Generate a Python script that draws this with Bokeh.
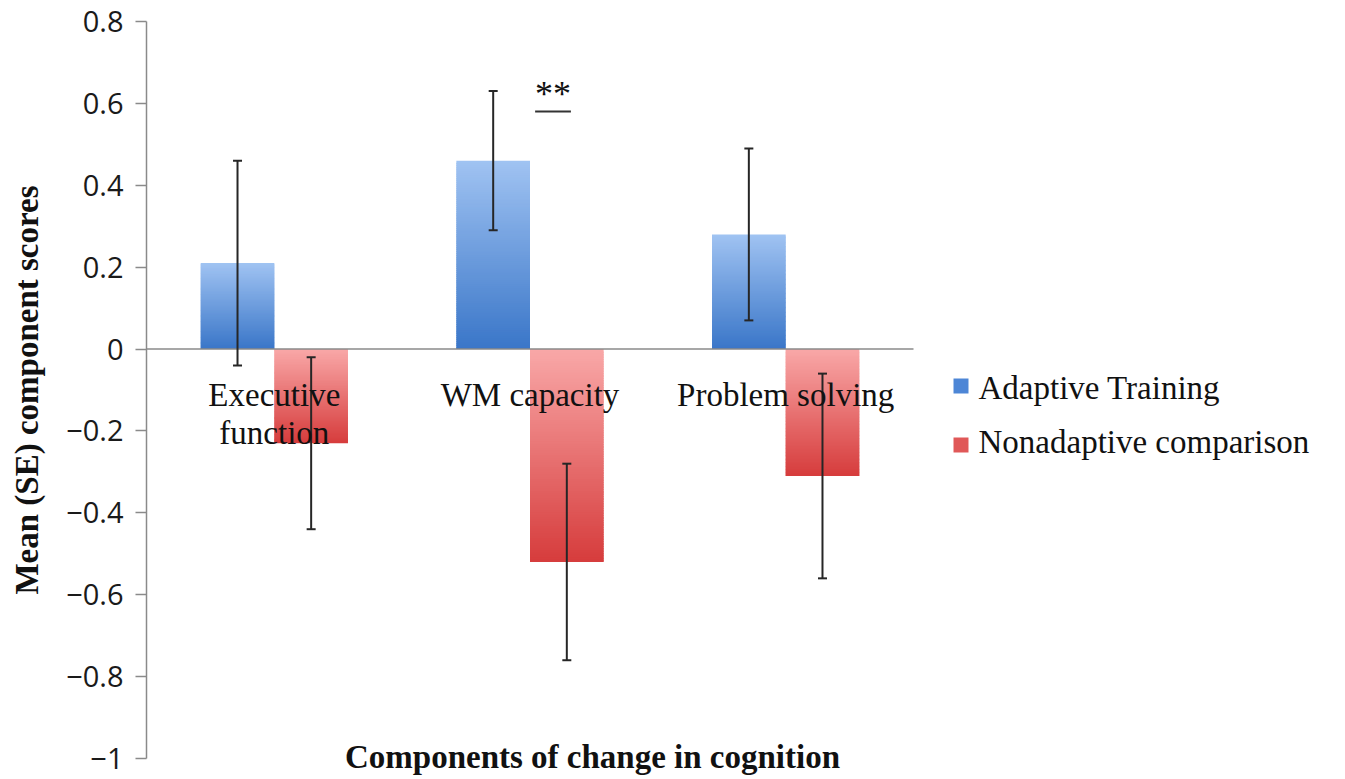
import numpy as np
from bokeh.plotting import figure
from bokeh.models import (ColumnDataSource, Label, BoxAnnotation, FixedTicker,
                          CustomJSTickFormatter, Range1d)
from bokeh.core.properties import value
from bokeh.embed import file_html
from bokeh.resources import INLINE

# ---------------- data ----------------
categories = ["Executive\nfunction", "WM capacity", "Problem solving"]
series_names = ["Adaptive Training", "Nonadaptive comparison"]
adaptive_mean = [0.21, 0.46, 0.28]
adaptive_se = [0.25, 0.17, 0.21]
nonadaptive_mean = [-0.23, -0.52, -0.31]
nonadaptive_se = [0.21, 0.24, 0.25]
y_ticks = [-1.0, -0.8, -0.6, -0.4, -0.2, 0.0, 0.2, 0.4, 0.6, 0.8]
x_title = "Components of change in cognition"
y_title = "Mean (SE) component scores"
sig_label = "**"
sig_x = [1.52, 1.66]
sig_y = 0.58

# ---------------- layout / style ----------------
W, H = 1329, 779
FL = 146                 # y axis position (px from left)
CAT_W = 767              # pixel width spanned by the three categories
AX_TOP, AX_BOT = 21, 758  # pixel rows of 0.8 and -1
N = len(categories)
PX_PER_X = CAT_W / N
PX_PER_Y = (AX_BOT - AX_TOP) / 1.8
XMIN, XMAX = 0.0, (W - FL) / PX_PER_X
YMAX = 0.8 + AX_TOP / PX_PER_Y
YMIN = -1.0 - (H - AX_BOT) / PX_PER_Y
SERIF = "Liberation Serif"
SANS = "Open Sans"
FS = 33
BASE_FIX = 11            # text baselines render this many px lower than asked
blue_top, blue_bot = (0xA0, 0xC3, 0xF2), (0x3A, 0x76, 0xC8)
red_top, red_bot = (0xF9, 0xA8, 0xA8), (0xD6, 0x3C, 0x3C)
bar_w = 0.288


def dx(px):  # canvas px -> data x
    return XMIN + (px - FL) / PX_PER_X


def dy(py):  # canvas px -> data y
    return YMAX - py / PX_PER_Y


p = figure(width=W, height=H, output_backend="svg", toolbar_location=None,
           x_range=Range1d(XMIN, XMAX), y_range=Range1d(YMIN, YMAX),
           x_axis_location=None, min_border_left=FL, min_border_right=0,
           min_border_top=0, min_border_bottom=0)
p.outline_line_color = None
p.xgrid.visible = False
p.ygrid.visible = False
p.background_fill_color = "white"
p.border_fill_color = "white"

centers = np.arange(N) + 0.5


def hex_of(c):
    return "#%02x%02x%02x" % tuple(int(round(v)) for v in c)


def gradient_source(lefts, rights, tops, bots, c_top, c_bot, n=90):
    L, R, T, B, C = [], [], [], [], []
    for l, r, t, b in zip(lefts, rights, tops, bots):
        edges = np.linspace(t, b, n + 1)
        ov = (t - b) / n * 0.8
        for i in range(n):
            f = (i + 0.5) / n
            col = tuple(c_top[k] + (c_bot[k] - c_top[k]) * f for k in range(3))
            bottom = edges[i + 1] - (ov if i < n - 1 else 0.0)
            L.append(l); R.append(r); T.append(edges[i]); B.append(bottom)
            C.append(hex_of(col))
    return ColumnDataSource(dict(left=L, right=R, top=T, bottom=B, color=C))


a_mean = np.array(adaptive_mean)
n_mean = np.array(nonadaptive_mean)
src_a = gradient_source(centers - bar_w, centers, np.maximum(a_mean, 0), np.minimum(a_mean, 0),
                        blue_top, blue_bot)
src_n = gradient_source(centers, centers + bar_w, np.maximum(n_mean, 0), np.minimum(n_mean, 0),
                        red_top, red_bot)
p.quad(left="left", right="right", top="top", bottom="bottom", source=src_a,
       fill_color="color", line_color=None)
p.quad(left="left", right="right", top="top", bottom="bottom", source=src_n,
       fill_color="color", line_color=None)

# zero line across the category area only
p.line(x=[0, N], y=[0, 0], line_color="#8a8a8a", line_width=1.5)

# error bars
err_x = np.concatenate([centers - bar_w / 2, centers + bar_w / 2])
err_hi = np.concatenate([a_mean + np.array(adaptive_se), n_mean + np.array(nonadaptive_se)])
err_lo = np.concatenate([a_mean - np.array(adaptive_se), n_mean - np.array(nonadaptive_se)])
p.segment(x0=err_x, y0=err_lo, x1=err_x, y1=err_hi, line_color="#262626", line_width=2)
p.scatter(x=np.concatenate([err_x, err_x]), y=np.concatenate([err_hi, err_lo]),
          marker="dash", size=9, line_color="#262626", line_width=2)

# category labels (just under the zero line)
line1 = [c.split("\n")[0] for c in categories]
line2 = [c.split("\n")[1] if "\n" in c else "" for c in categories]
p.text(x=centers, y=[0] * N, text=line1, text_align="center",
       text_baseline="alphabetic", y_offset=57 - BASE_FIX, text_font=value(SERIF),
       text_font_size=f"{FS}px", text_color="#111111")
p.text(x=centers, y=[0] * N, text=line2, text_align="center",
       text_baseline="alphabetic", y_offset=95 - BASE_FIX, text_font=value(SERIF),
       text_font_size=f"{FS}px", text_color="#111111")

# significance marker
p.line(x=sig_x, y=[sig_y, sig_y], line_color="#333333", line_width=2)
p.text(x=[sum(sig_x) / 2], y=[sig_y], text=[sig_label], text_align="center",
       text_baseline="alphabetic", y_offset=-18, text_font=value(SERIF),
       text_font_size="36px", text_color="#111111")

# x title
p.add_layout(Label(x=dx(592), y=dy(767 - BASE_FIX), x_units="data", y_units="data",
                   text=x_title, text_align="center", text_baseline="alphabetic",
                   text_font=SERIF, text_font_size=f"{FS}px", text_font_style="bold",
                   text_color="#111111"))

# legend (manual, inside the frame area right of the bars)
legend_colors = ["#4d86d6", "#e05858"]
legend_rows = [(378, 398), (437, 452)]   # (box top px, text baseline px)
for name, col, (box_top, base_py) in zip(series_names, legend_colors, legend_rows):
    p.add_layout(BoxAnnotation(left=dx(953), right=dx(968), top=dy(box_top),
                               bottom=dy(box_top + 15),
                               fill_color=col, fill_alpha=1, line_color=None))
    p.add_layout(Label(x=dx(978), y=dy(base_py - BASE_FIX), x_units="data", y_units="data",
                       text=name, text_align="left", text_baseline="alphabetic",
                       text_font=SERIF, text_font_size=f"{FS}px", text_color="#111111"))

# y axis
ax = p.yaxis[0]
ax.ticker = FixedTicker(ticks=y_ticks)
ax.bounds = (-1.0, 0.8)
ax.formatter = CustomJSTickFormatter(code="""
    if (Math.abs(tick) < 1e-9) return '0';
    let s = (Math.abs(Math.abs(tick) - 1) < 1e-9) ? String(Math.round(tick)) : tick.toFixed(1);
    return s.replace('-', '\u2212');
""")
ax.axis_line_color = "#8a8a8a"
ax.axis_line_width = 1.5
ax.major_tick_line_color = "#8a8a8a"
ax.major_tick_line_width = 1.5
ax.major_tick_out = 11
ax.major_tick_in = 0
ax.minor_tick_line_color = None
ax.major_label_standoff = 12
ax.major_label_text_font = SANS
ax.major_label_text_font_size = "29px"
ax.major_label_text_color = "#1a1a1a"
ax.axis_label = y_title
ax.axis_label_text_font = SERIF
ax.axis_label_text_font_size = f"{FS}px"
ax.axis_label_text_font_style = "bold"
ax.axis_label_text_color = "#111111"
ax.axis_label_standoff = 18

open("out.html", "w").write(file_html(p, INLINE))
